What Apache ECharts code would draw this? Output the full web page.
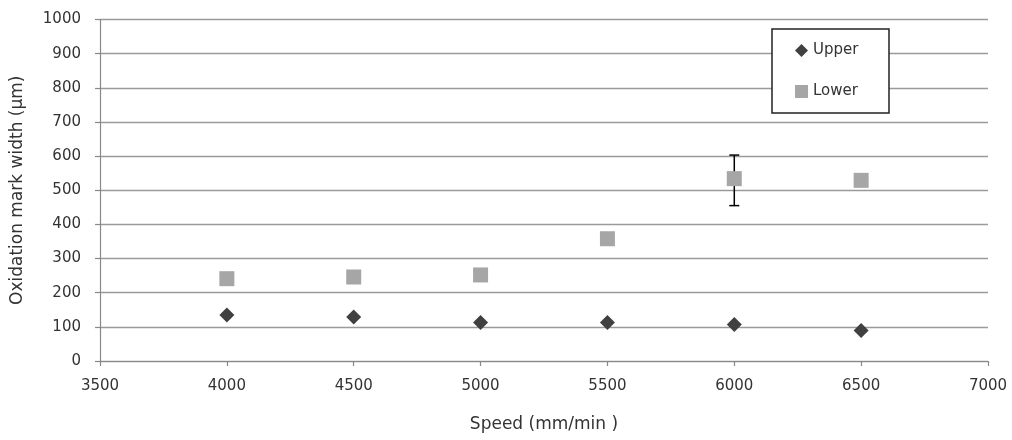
<!DOCTYPE html>
<html>
<head>
<meta charset="utf-8">
<script src="https://cdn.jsdelivr.net/npm/echarts@6/dist/echarts.min.js"></script>
<style>html,body{margin:0;padding:0;background:#fff}#c{width:1012px;height:440px}</style>
</head>
<body>
<div id="c"></div>
<script>
var speeds = [4000, 4500, 5000, 5500, 6000, 6500];
var upper = [135, 129, 113, 113, 107, 89];
var lower = [241, 246, 252, 358, 534, 529];
// error bar on Lower at 6000: [x, low, high]
var errorBars = [[6000, 455, 603]];

var upperData = speeds.map(function (s, i) { return [s, upper[i]]; });
var lowerData = speeds.map(function (s, i) { return [s, lower[i]]; });

var font = 'DejaVu Sans';
var chart = echarts.init(document.getElementById('c'), null, {renderer: 'canvas'});
chart.setOption({
  backgroundColor: '#fff',
  animation: false,
  grid: {left: 100, right: 24, top: 19.5, bottom: 79, containLabel: false},
  xAxis: {
    type: 'value', min: 3500, max: 7000, interval: 500,
    name: 'Speed (mm/min )', nameLocation: 'middle', nameGap: 55,
    nameTextStyle: {fontFamily: font, fontSize: 17, color: '#333'},
    axisLine: {show: true, lineStyle: {color: '#888', width: 1.2}},
    axisTick: {show: true, length: 5, lineStyle: {color: '#888', width: 1.2}},
    axisLabel: {fontFamily: font, fontSize: 15, color: '#333', margin: 18,
      formatter: function (v) { return String(v); }},
    splitLine: {show: false}
  },
  yAxis: {
    type: 'value', min: 0, max: 1000, interval: 100,
    name: 'Oxidation mark width (µm)', nameLocation: 'middle', nameGap: 74, nameRotate: 90,
    nameTextStyle: {fontFamily: font, fontSize: 17, color: '#333'},
    axisLine: {show: true, lineStyle: {color: '#888', width: 1.2}},
    axisTick: {show: true, length: 5, lineStyle: {color: '#888', width: 1.2}},
    axisLabel: {fontFamily: font, fontSize: 15, color: '#333', margin: 19,
      formatter: function (v) { return String(v); }},
    splitLine: {show: true, lineStyle: {color: '#9a9a9a', width: 1.3}}
  },
  graphic: [{
    type: 'rect', z: 3,
    shape: {x: 772, y: 29, width: 117, height: 84},
    style: {fill: '#fff', stroke: '#222', lineWidth: 1.5}
  }],
  legend: {
    z: 4, orient: 'vertical', left: 795, top: 43, padding: 0,
    itemWidth: 13, itemHeight: 13, itemGap: 26, itemStyle: {opacity: 1},
    textStyle: {fontFamily: font, fontSize: 15, color: '#333', lineHeight: 15},
    data: ['Upper', 'Lower']
  },
  series: [
    {
      name: 'Upper', type: 'scatter', symbol: 'diamond', symbolSize: 15,
      itemStyle: {color: '#404040', opacity: 1}, data: upperData, z: 3
    },
    {
      name: 'Lower', type: 'scatter', symbol: 'rect', symbolSize: 15,
      itemStyle: {color: '#a6a6a6', opacity: 1}, data: lowerData, z: 2
    },
    {
      name: 'errbar', type: 'custom', z: 1, silent: true,
      renderItem: function (params, api) {
        var x = api.value(0);
        var lo = api.coord([x, api.value(1)]);
        var hi = api.coord([x, api.value(2)]);
        var w = 5;
        var st = {stroke: '#000', lineWidth: 1.5};
        return {type: 'group', children: [
          {type: 'line', shape: {x1: lo[0], y1: lo[1], x2: hi[0], y2: hi[1]}, style: st},
          {type: 'line', shape: {x1: hi[0] - w, y1: hi[1], x2: hi[0] + w, y2: hi[1]}, style: st},
          {type: 'line', shape: {x1: lo[0] - w, y1: lo[1], x2: lo[0] + w, y2: lo[1]}, style: st}
        ]};
      },
      encode: {x: 0, y: [1, 2]},
      data: errorBars
    }
  ]
});
</script>
</body>
</html>
